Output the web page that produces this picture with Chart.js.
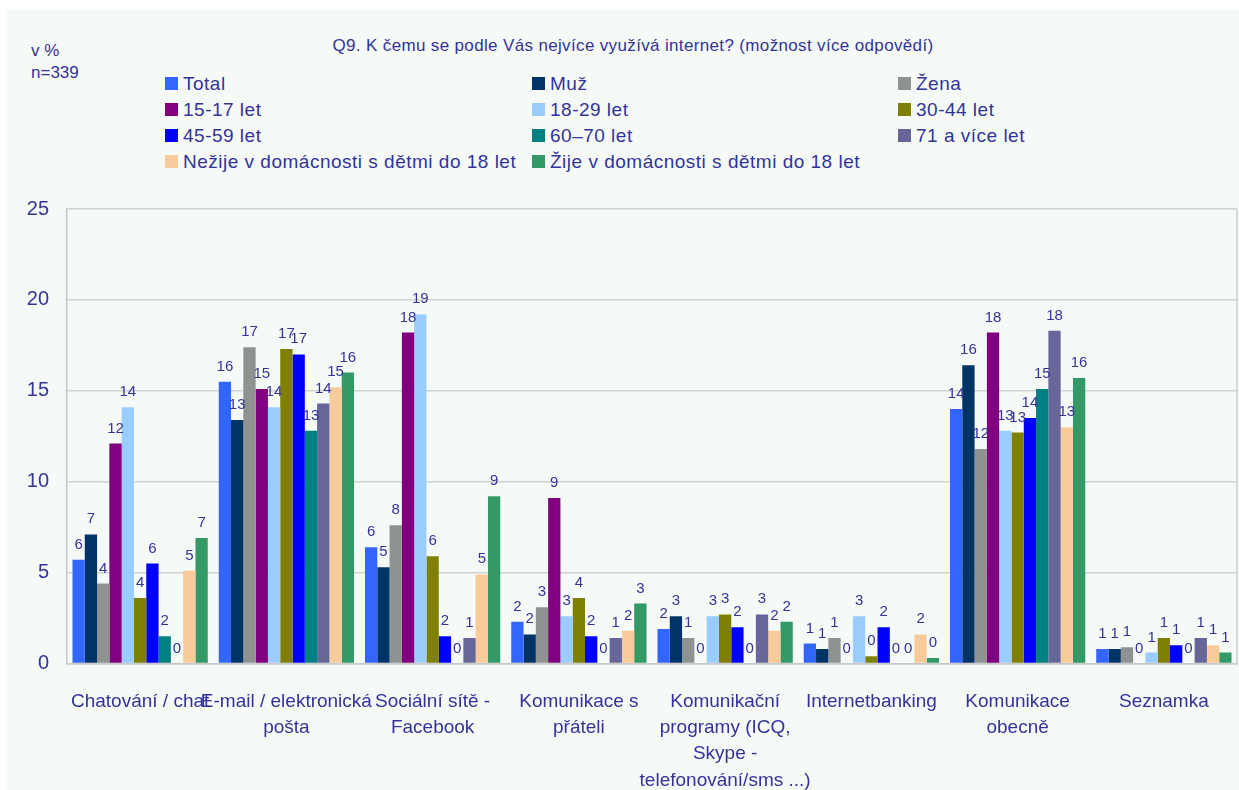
<!DOCTYPE html>
<html><head><meta charset="utf-8">
<script src="https://cdn.jsdelivr.net/npm/chart.js@4/dist/chart.umd.min.js"></script>
<style>
html,body{margin:0;padding:0;background:#fff;}
#wrap{position:relative;width:1239px;height:790px;overflow:hidden;background:#fff;}
#panel{position:absolute;left:7px;top:10px;right:0;bottom:0;background:#F5FAF7;}
#c{position:absolute;left:0;top:0;}
.txt{position:absolute;font-family:"Liberation Sans",Arial,sans-serif;color:#333399;white-space:nowrap;line-height:1;}
.lg{position:absolute;font-family:"Liberation Sans",Arial,sans-serif;color:#333399;font-size:19px;letter-spacing:0.5px;white-space:nowrap;line-height:26px;height:26px;}
.lg i{position:absolute;left:0;top:6px;width:13px;height:13px;}
.lg span{position:absolute;left:18px;top:0;}
</style></head>
<body>
<div id="wrap">
<div id="panel"></div>
<div class="txt" id="title" style="font-size:17px;letter-spacing:0.35px;top:37px;left:633px;transform:translateX(-50%);"></div>
<div class="txt" style="font-size:17px;left:31px;top:42px;">v %</div>
<div class="txt" style="font-size:17px;left:31px;top:64px;">n=339</div>
<div id="legend"></div>
<canvas id="c" width="1239" height="790"></canvas>
</div>
<script>
const titleText = "Q9. K čemu se podle Vás nejvíce využívá internet? (možnost více odpovědí)";
const categories = [
  ["Chatování / chat"],
  ["E-mail / elektronická","pošta"],
  ["Sociální sítě -","Facebook"],
  ["Komunikace s","přáteli"],
  ["Komunikační","programy (ICQ,","Skype -","telefonování/sms ...)"],
  ["Internetbanking"],
  ["Komunikace","obecně"],
  ["Seznamka"]
];
const seriesNames = ["Total","Muž","Žena","15-17 let","18-29 let","30-44 let","45-59 let","60–70 let","71 a více let","Nežije v domácnosti s dětmi do 18 let","Žije v domácnosti s dětmi do 18 let"];
const total  = [5.7, 15.5, 6.4, 2.3, 1.9, 1.1, 14.0, 0.8];
const muz    = [7.1, 13.4, 5.3, 1.6, 2.6, 0.8, 16.4, 0.8];
const zena   = [4.4, 17.4, 7.6, 3.1, 1.4, 1.4, 11.8, 0.9];
const a1517  = [12.1, 15.1, 18.2, 9.1, 0, 0, 18.2, 0];
const a1829  = [14.1, 14.1, 19.2, 2.6, 2.6, 2.6, 12.8, 0.6];
const a3044  = [3.6, 17.3, 5.9, 3.6, 2.7, 0.4, 12.7, 1.4];
const a4559  = [5.5, 17.0, 1.5, 1.5, 2.0, 2.0, 13.5, 1.0];
const a6070  = [1.5, 12.8, 0, 0, 0, 0, 15.1, 0];
const a71    = [0, 14.3, 1.4, 1.4, 2.7, 0, 18.3, 1.4];
const nezije = [5.1, 15.2, 4.9, 1.8, 1.8, 1.6, 13.0, 1.0];
const zije   = [6.9, 16.0, 9.2, 3.3, 2.3, 0.3, 15.7, 0.6];
const yTicks = [0, 5, 10, 15, 20, 25];

const seriesValues = [total, muz, zena, a1517, a1829, a3044, a4559, a6070, a71, nezije, zije];
const colors = ["#3366FF","#003366","#8E938F","#800080","#99CCFF","#808000","#0000FF","#008080","#666699","#F8CB9A","#339966"];
const FONT = '"Liberation Sans", Arial, sans-serif';
const TXT = "#333399";

document.getElementById('title').textContent = titleText;

// HTML legend (3 columns, row-major)
const legend = document.getElementById('legend');
const colX = [165, 532, 898];
const rowY = [71, 97, 123, 149];
seriesNames.forEach((n, i) => {
  const d = document.createElement('div');
  d.className = 'lg';
  d.style.left = colX[i % 3] + 'px';
  d.style.top = rowY[Math.floor(i / 3)] + 'px';
  const b = document.createElement('i'); b.style.background = colors[i];
  const s = document.createElement('span'); s.textContent = n;
  d.appendChild(b); d.appendChild(s);
  legend.appendChild(d);
});

const labelPlugin = {
  id: 'valueLabels',
  afterDatasetsDraw(chart) {
    const ctx = chart.ctx;
    ctx.save();
    ctx.font = '15px ' + FONT;
    ctx.fillStyle = TXT;
    ctx.textAlign = 'center';
    ctx.textBaseline = 'alphabetic';
    chart.data.datasets.forEach((ds, di) => {
      const meta = chart.getDatasetMeta(di);
      meta.data.forEach((bar, i) => {
        const v = ds.data[i];
        ctx.fillText(String(Math.round(v)), bar.x, bar.y - 11);
      });
    });
    const a = chart.chartArea;
    ctx.strokeStyle = '#cfcfcf';
    ctx.lineWidth = 1.5;
    ctx.beginPath();
    ctx.moveTo(a.right, a.top); ctx.lineTo(a.right, a.bottom);
    ctx.stroke();
    ctx.restore();
  }
};

new Chart(document.getElementById('c'), {
  type: 'bar',
  data: {
    labels: categories,
    datasets: seriesNames.map((n, i) => ({
      label: n,
      data: seriesValues[i],
      backgroundColor: colors[i],
      borderWidth: 0,
      categoryPercentage: 0.925,
      barPercentage: 1.0
    }))
  },
  options: {
    responsive: false,
    animation: false,
    devicePixelRatio: 1,
    layout: { padding: { top: 209, right: 2, left: 0, bottom: 0 } },
    plugins: { legend: { display: false }, tooltip: { enabled: false } },
    scales: {
      x: {
        grid: { display: false },
        border: { display: true, color: '#c8c8c8', width: 1.5 },
        ticks: {
          autoSkip: false, maxRotation: 0, minRotation: 0,
          color: TXT, padding: 17,
          font: { family: FONT, size: 19, lineHeight: 1.38 }
        },
        afterFit(s) { s.height = 126.5; }
      },
      y: {
        min: 0, max: 25,
        afterBuildTicks(s) { s.ticks = yTicks.map(v => ({ value: v })); },
        grid: { color: '#d2d2d2', lineWidth: 1.5, drawTicks: false },
        border: { display: true, color: '#c8c8c8', width: 1.5 },
        ticks: { color: TXT, padding: 18, font: { family: FONT, size: 20 } },
        afterFit(s) { s.width = 67; }
      }
    }
  },
  plugins: [labelPlugin]
});
</script>
</body></html>
